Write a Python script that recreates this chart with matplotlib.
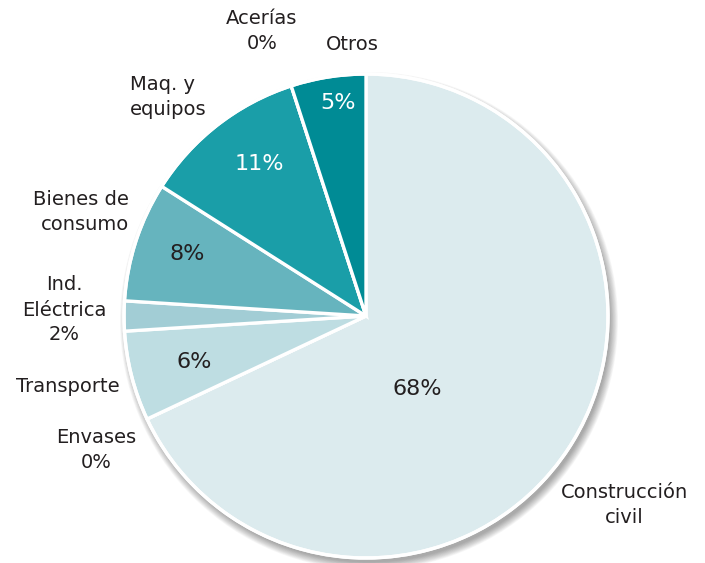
import matplotlib.pyplot as plt
from matplotlib.patches import Circle

# ---- data (clockwise from 12 o'clock) --------------------------------------
sectors = ["Construcción\ncivil", "Envases\n0%", "Transporte", "Ind.\nEléctrica\n2%",
           "Bienes de\nconsumo", "Maq. y\nequipos", "Acerías\n0%", "Otros"]
shares = [68, 0, 6, 2, 8, 11, 0, 5]
inner_labels = ["68%", "", "6%", "", "8%", "11%", "", "5%"]
colors = ["#dcebee", "#dcebee", "#bedde2", "#a2cdd5", "#66b4be", "#1a9ea8", "#1a9ea8", "#008b95"]
inner_colors = ["#231f20", "", "#231f20", "", "#231f20", "white", "", "white"]

# label placement in pixel coords (x, y from top), alignment
outer_pos = [(624, 505, "center"), (96, 450, "center"), (68, 386, "center"),
             (64, 310, "center"), (129, 212, "right"), (130, 97, "left"),
             (262, 31, "center"), (352, 44, "center")]
inner_pos = [(417, 389), None, (194, 362), None, (187, 254), (259, 164), None, (338, 103)]

W, H = 705, 563
cx, cy, R = 366, H - 316, 242

fig = plt.figure(figsize=(W / 100, H / 100), dpi=100)
ax = fig.add_axes([0, 0, 1, 1])

# soft drop shadow
for i in range(12):
    ax.add_patch(Circle((cx + 3, cy - 5), R + 7 - i * 0.7, color="black",
                        alpha=0.03, lw=0, zorder=0))

ax.pie(shares, colors=colors, startangle=90, counterclock=False,
       center=(cx, cy), radius=R, frame=True,
       wedgeprops=dict(edgecolor="white", linewidth=2.4))
ax.add_patch(Circle((cx, cy), R, fill=False, ec="white", lw=2.4, zorder=5))
ax.set_xlim(0, W)
ax.set_ylim(0, H)
ax.set_aspect("equal")
ax.axis("off")

font = "DejaVu Sans"
for name, (x, y, ha) in zip(sectors, outer_pos):
    ax.text(x, H - y, name, ha=ha, va="center", multialignment=ha,
            fontsize=14, color="#231f20", family=font, linespacing=1.4)

for lab, pos, c in zip(inner_labels, inner_pos, inner_colors):
    if pos is None:
        continue
    ax.text(pos[0], H - pos[1], lab, ha="center", va="center",
            fontsize=16, color=c, family=font)

fig.savefig("out.png", dpi=100, facecolor="white")
